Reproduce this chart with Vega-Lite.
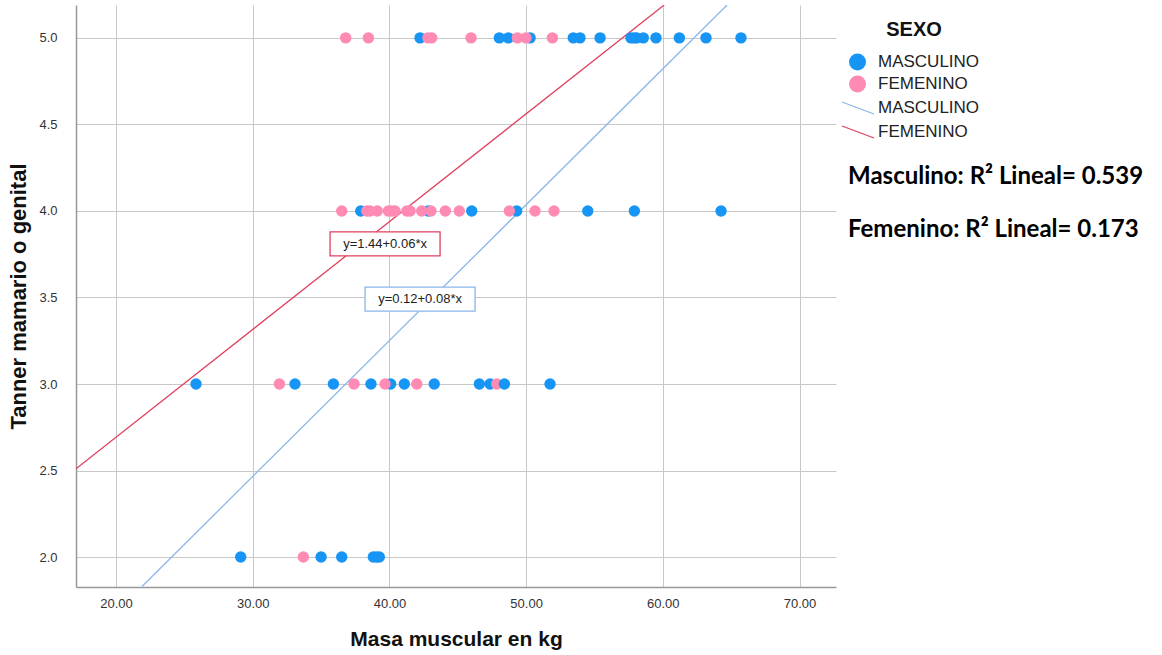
{
  "$schema": "https://vega.github.io/schema/vega-lite/v6.json",
  "width": 760,
  "height": 582,
  "autosize": "none",
  "padding": {"left": 76, "top": 5, "right": 326, "bottom": 68},
  "background": "white",
  "config": {
    "view": {"stroke": null},
    "font": "Liberation Sans",
    "axis": {
      "gridColor": "#c8c8c8",
      "gridWidth": 1,
      "domainColor": "#999999",
      "domainWidth": 1.5,
      "ticks": false,
      "labelFont": "Liberation Sans",
      "labelFontSize": 13,
      "labelColor": "#333333",
      "titleFont": "Liberation Sans",
      "titleFontSize": 21,
      "titleFontWeight": "bold",
      "titleColor": "#111111"
    },
    "legend": {
      "labelFont": "Liberation Sans",
      "labelFontSize": 17,
      "labelColor": "#222222",
      "padding": 0
    }
  },
  "datasets": {
    "puntos": [
      {"masa": 36.80, "tanner": 5, "sexo": "FEMENINO"},
      {"masa": 38.46, "tanner": 5, "sexo": "FEMENINO"},
      {"masa": 42.24, "tanner": 5, "sexo": "MASCULINO"},
      {"masa": 42.82, "tanner": 5, "sexo": "FEMENINO"},
      {"masa": 43.09, "tanner": 5, "sexo": "FEMENINO"},
      {"masa": 45.97, "tanner": 5, "sexo": "FEMENINO"},
      {"masa": 48.04, "tanner": 5, "sexo": "MASCULINO"},
      {"masa": 48.70, "tanner": 5, "sexo": "MASCULINO"},
      {"masa": 49.36, "tanner": 5, "sexo": "FEMENINO"},
      {"masa": 50.29, "tanner": 5, "sexo": "MASCULINO"},
      {"masa": 49.99, "tanner": 5, "sexo": "FEMENINO"},
      {"masa": 51.92, "tanner": 5, "sexo": "FEMENINO"},
      {"masa": 53.45, "tanner": 5, "sexo": "MASCULINO"},
      {"masa": 53.94, "tanner": 5, "sexo": "MASCULINO"},
      {"masa": 55.41, "tanner": 5, "sexo": "MASCULINO"},
      {"masa": 57.67, "tanner": 5, "sexo": "MASCULINO"},
      {"masa": 57.90, "tanner": 5, "sexo": "MASCULINO"},
      {"masa": 58.09, "tanner": 5, "sexo": "MASCULINO"},
      {"masa": 58.57, "tanner": 5, "sexo": "MASCULINO"},
      {"masa": 59.50, "tanner": 5, "sexo": "MASCULINO"},
      {"masa": 61.21, "tanner": 5, "sexo": "MASCULINO"},
      {"masa": 63.16, "tanner": 5, "sexo": "MASCULINO"},
      {"masa": 65.72, "tanner": 5, "sexo": "MASCULINO"},
      {"masa": 37.90, "tanner": 4, "sexo": "MASCULINO"},
      {"masa": 36.51, "tanner": 4, "sexo": "FEMENINO"},
      {"masa": 38.34, "tanner": 4, "sexo": "FEMENINO"},
      {"masa": 38.58, "tanner": 4, "sexo": "FEMENINO"},
      {"masa": 39.11, "tanner": 4, "sexo": "FEMENINO"},
      {"masa": 39.92, "tanner": 4, "sexo": "FEMENINO"},
      {"masa": 40.17, "tanner": 4, "sexo": "FEMENINO"},
      {"masa": 40.41, "tanner": 4, "sexo": "FEMENINO"},
      {"masa": 41.27, "tanner": 4, "sexo": "FEMENINO"},
      {"masa": 41.51, "tanner": 4, "sexo": "FEMENINO"},
      {"masa": 42.85, "tanner": 4, "sexo": "MASCULINO"},
      {"masa": 42.36, "tanner": 4, "sexo": "FEMENINO"},
      {"masa": 43.04, "tanner": 4, "sexo": "FEMENINO"},
      {"masa": 44.09, "tanner": 4, "sexo": "FEMENINO"},
      {"masa": 45.11, "tanner": 4, "sexo": "FEMENINO"},
      {"masa": 46.02, "tanner": 4, "sexo": "MASCULINO"},
      {"masa": 49.31, "tanner": 4, "sexo": "MASCULINO"},
      {"masa": 48.77, "tanner": 4, "sexo": "FEMENINO"},
      {"masa": 50.65, "tanner": 4, "sexo": "FEMENINO"},
      {"masa": 52.04, "tanner": 4, "sexo": "FEMENINO"},
      {"masa": 54.51, "tanner": 4, "sexo": "MASCULINO"},
      {"masa": 57.92, "tanner": 4, "sexo": "MASCULINO"},
      {"masa": 64.26, "tanner": 4, "sexo": "MASCULINO"},
      {"masa": 25.85, "tanner": 3, "sexo": "MASCULINO"},
      {"masa": 31.95, "tanner": 3, "sexo": "FEMENINO"},
      {"masa": 33.09, "tanner": 3, "sexo": "MASCULINO"},
      {"masa": 35.90, "tanner": 3, "sexo": "MASCULINO"},
      {"masa": 37.41, "tanner": 3, "sexo": "FEMENINO"},
      {"masa": 38.65, "tanner": 3, "sexo": "MASCULINO"},
      {"masa": 40.09, "tanner": 3, "sexo": "MASCULINO"},
      {"masa": 39.68, "tanner": 3, "sexo": "FEMENINO"},
      {"masa": 41.09, "tanner": 3, "sexo": "MASCULINO"},
      {"masa": 42.00, "tanner": 3, "sexo": "FEMENINO"},
      {"masa": 43.28, "tanner": 3, "sexo": "MASCULINO"},
      {"masa": 46.58, "tanner": 3, "sexo": "MASCULINO"},
      {"masa": 47.36, "tanner": 3, "sexo": "MASCULINO"},
      {"masa": 47.85, "tanner": 3, "sexo": "FEMENINO"},
      {"masa": 48.41, "tanner": 3, "sexo": "MASCULINO"},
      {"masa": 51.75, "tanner": 3, "sexo": "MASCULINO"},
      {"masa": 29.12, "tanner": 2, "sexo": "MASCULINO"},
      {"masa": 33.70, "tanner": 2, "sexo": "FEMENINO"},
      {"masa": 35.00, "tanner": 2, "sexo": "MASCULINO"},
      {"masa": 36.51, "tanner": 2, "sexo": "MASCULINO"},
      {"masa": 38.82, "tanner": 2, "sexo": "MASCULINO"},
      {"masa": 39.05, "tanner": 2, "sexo": "MASCULINO"},
      {"masa": 39.26, "tanner": 2, "sexo": "MASCULINO"}
    ],
    "lineas": [
      {"masa": 21.9, "tanner": 1.83, "linea": "MASCULINO ajuste"},
      {"masa": 64.7, "tanner": 5.19, "linea": "MASCULINO ajuste"},
      {"masa": 17.07, "tanner": 2.51, "linea": "FEMENINO ajuste"},
      {"masa": 60.1, "tanner": 5.19, "linea": "FEMENINO ajuste"}
    ],
    "ecuaciones": [
      {"masa": 39.68, "tanner": 3.81, "linea": "FEMENINO ajuste", "texto": "y=1.44+0.06*x"},
      {"masa": 42.24, "tanner": 3.49, "linea": "MASCULINO ajuste", "texto": "y=0.12+0.08*x"}
    ],
    "r2": [
      {"masa": 73.55, "tanner": 4.198, "texto": "Masculino: R² Lineal= 0.539"},
      {"masa": 73.55, "tanner": 3.888, "texto": "Femenino: R² Lineal= 0.173"}
    ]
  },
  "encoding": {
    "x": {
      "field": "masa",
      "type": "quantitative",
      "scale": {"domain": [17.07, 72.67], "nice": false, "zero": false},
      "axis": {
        "title": "Masa muscular en kg",
        "values": [20, 30, 40, 50, 60, 70],
        "format": ".2f",
        "labelPadding": 10,
        "titlePadding": 18
      }
    },
    "y": {
      "field": "tanner",
      "type": "quantitative",
      "scale": {"domain": [1.827, 5.19], "nice": false, "zero": false},
      "axis": {
        "title": "Tanner mamario o genital",
        "titleFontSize": 22,
        "values": [2, 2.5, 3, 3.5, 4, 4.5, 5],
        "format": ".1f",
        "labelPadding": 19,
        "titlePadding": 8
      }
    }
  },
  "layer": [
    {
      "data": {"name": "lineas"},
      "mark": {"type": "line", "strokeWidth": 1.3, "clip": true},
      "encoding": {
        "detail": {"field": "linea"},
        "stroke": {
          "field": "linea",
          "type": "nominal",
          "scale": {"domain": ["MASCULINO ajuste", "FEMENINO ajuste"], "range": ["#8ab6ea", "#e0405f"]},
          "legend": {
            "title": null,
            "orient": "none",
            "legendX": 773,
            "legendY": 94,
            "symbolType": "M-2,-0.75L2,0.75",
            "symbolSize": 256,
            "symbolStrokeWidth": 1.3,
            "labelOffset": 11,
            "rowPadding": 6,
            "labelExpr": "split(datum.label, ' ')[0]"
          }
        }
      }
    },
    {
      "data": {"name": "puntos"},
      "mark": {"type": "point", "filled": true, "opacity": 1, "size": 130},
      "encoding": {
        "fill": {
          "field": "sexo",
          "type": "nominal",
          "scale": {"domain": ["MASCULINO", "FEMENINO"], "range": ["#1795f5", "#ff8ab4"]},
          "legend": {
            "title": "SEXO",
            "titleFont": "Liberation Sans",
            "titleFontSize": 20,
            "titleFontWeight": "bold",
            "titleColor": "#111111",
            "titleAnchor": "middle",
            "titlePadding": 13.5,
            "orient": "none",
            "legendX": 773,
            "legendY": 15,
            "symbolType": "circle",
            "symbolSize": 289,
            "symbolStrokeWidth": 0,
            "labelOffset": 12,
            "rowPadding": 4
          }
        }
      }
    },
    {
      "data": {"name": "ecuaciones"},
      "mark": {
        "type": "point",
        "shape": "M-1,-0.218L1,-0.218L1,0.218L-1,0.218Z",
        "size": 12100,
        "filled": false,
        "fill": "white",
        "fillOpacity": 1,
        "strokeWidth": 1.3,
        "opacity": 1
      },
      "encoding": {
        "stroke": {"field": "linea", "type": "nominal"}
      }
    },
    {
      "data": {"name": "ecuaciones"},
      "mark": {"type": "text", "font": "Liberation Sans", "fontSize": 13, "color": "#222222", "align": "center", "baseline": "middle"},
      "encoding": {
        "text": {"field": "texto"}
      }
    },
    {
      "data": {"name": "r2"},
      "mark": {"type": "text", "font": "Lato", "fontSize": 24, "fontWeight": "bold", "color": "#000000", "align": "left", "baseline": "middle", "clip": false},
      "encoding": {
        "text": {"field": "texto"}
      }
    }
  ]
}
